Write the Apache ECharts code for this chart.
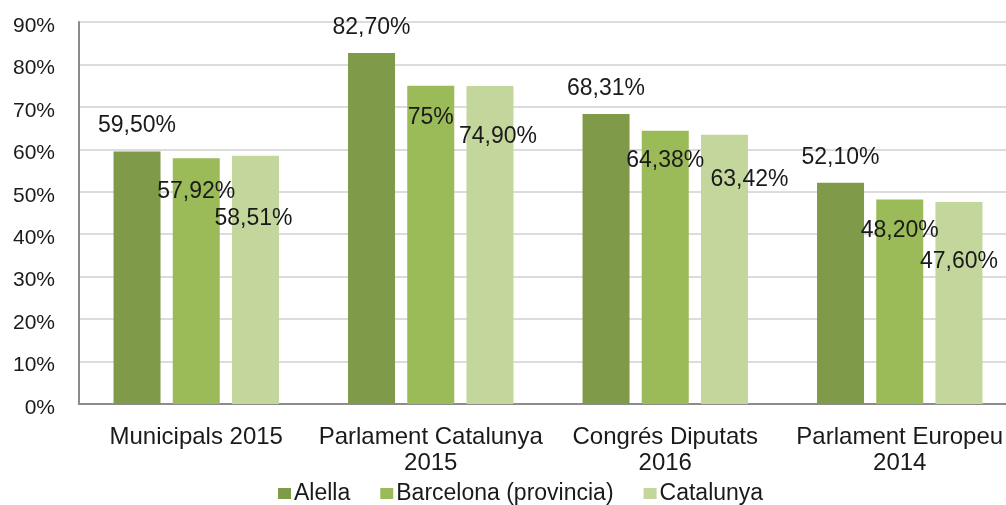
<!DOCTYPE html>
<html>
<head>
<meta charset="utf-8">
<script src="https://cdn.jsdelivr.net/npm/echarts@6/dist/echarts.min.js"></script>
<style>
html,body{margin:0;padding:0;background:#fff;overflow:hidden;width:1006px;height:505px;}
#chart{width:1017px;height:505px;}
</style>
</head>
<body>
<div id="chart"></div>
<script>
// ---- data ----
const categories = ['Municipals 2015', 'Parlament Catalunya\n2015', 'Congrés Diputats\n2016', 'Parlament Europeu\n2014'];
const seriesNames = ['Alella', 'Barcelona (provincia)', 'Catalunya'];
const alella = [59.50, 82.70, 68.31, 52.10];
const barcelona = [57.92, 75, 64.38, 48.20];
const catalunya = [58.51, 74.90, 63.42, 47.60];
const yTicks = [0, 10, 20, 30, 40, 50, 60, 70, 80, 90];

// ---- label placement (style only) ----
const barcelonaLabelShift = [[0, 22], [0, 20], [0, 18], [0, 20]];
const catalunyaLabelShift = [[-2, 51], [8, 39], [25, 33], [0, 48]];

const colors = ['#7F9A48', '#9BBB59', '#C3D69B'];
const FONT = 'Liberation Sans, Arial, sans-serif';

function fmt(v) {
  return Number.isInteger(v) ? v + '%' : v.toFixed(2).replace('.', ',') + '%';
}
const labelBase = {
  show: true, color: '#1a1a1a', fontFamily: FONT, fontSize: 23, lineHeight: 23,
  formatter: p => fmt(p.value)
};
function inside(values, shifts) {
  return values.map((v, i) => ({
    value: v,
    label: { position: 'insideTop', distance: 0, offset: shifts[i] }
  }));
}

const chart = echarts.init(document.getElementById('chart'), null, { renderer: 'canvas' });
chart.setOption({
  animation: false,
  backgroundColor: '#ffffff',
  textStyle: { fontFamily: FONT },
  grid: { left: 79, top: 22, bottom: 101, right: 0, containLabel: false },
  legend: {
    data: seriesNames,
    left: 273, top: 477,
    icon: 'rect', itemWidth: 13, itemHeight: 11, itemGap: 30,
    textStyle: { fontFamily: FONT, fontSize: 23, color: '#1a1a1a', padding: [0, 0, 0, -2] }
  },
  xAxis: {
    type: 'category',
    data: categories,
    axisLine: { lineStyle: { color: '#8c8c8c', width: 2 } },
    axisTick: { show: false },
    axisLabel: { fontFamily: FONT, fontSize: 24, lineHeight: 26, color: '#1a1a1a', margin: 20, interval: 0 }
  },
  yAxis: {
    type: 'value',
    min: yTicks[0], max: yTicks[yTicks.length - 1], interval: yTicks[1] - yTicks[0],
    axisLine: { show: true, lineStyle: { color: '#8c8c8c', width: 2 } },
    axisTick: { show: false },
    splitLine: { lineStyle: { color: '#dcdcdc', width: 2 } },
    axisLabel: {
      margin: 24,
      formatter: v => '{t|' + v + '%}',
      rich: { t: { fontFamily: FONT, fontSize: 21, color: '#1a1a1a', padding: [8, 0, 0, 0] } }
    }
  },
  series: [
    {
      name: seriesNames[0], type: 'bar', data: alella, barWidth: 47, barGap: '26%',
      itemStyle: { color: colors[0] },
      label: Object.assign({}, labelBase, { position: 'top', distance: 14 })
    },
    {
      name: seriesNames[1], type: 'bar', data: inside(barcelona, barcelonaLabelShift), barWidth: 47, barGap: '26%',
      itemStyle: { color: colors[1] },
      label: Object.assign({}, labelBase, { position: 'insideTop' })
    },
    {
      name: seriesNames[2], type: 'bar', data: inside(catalunya, catalunyaLabelShift), barWidth: 47, barGap: '26%',
      itemStyle: { color: colors[2] },
      label: Object.assign({}, labelBase, { position: 'insideTop' })
    }
  ]
});
</script>
</body>
</html>
